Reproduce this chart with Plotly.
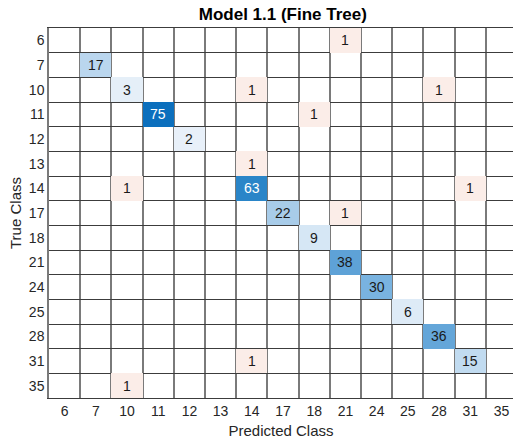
import plotly.graph_objects as go

# confusion matrix for Model 1.1 (Fine Tree)
classes = [6, 7, 10, 11, 12, 13, 14, 17, 18, 21, 24, 25, 28, 31, 35]
counts = [
    # 6  7 10  11 12 13 14  17 18 21  24 25 28  31 35
    [0, 0, 0, 0, 0, 0, 0, 0, 0, 1, 0, 0, 0, 0, 0],      # 6
    [0, 17, 0, 0, 0, 0, 0, 0, 0, 0, 0, 0, 0, 0, 0],     # 7
    [0, 0, 3, 0, 0, 0, 1, 0, 0, 0, 0, 0, 1, 0, 0],      # 10
    [0, 0, 0, 75, 0, 0, 0, 0, 1, 0, 0, 0, 0, 0, 0],     # 11
    [0, 0, 0, 0, 2, 0, 0, 0, 0, 0, 0, 0, 0, 0, 0],      # 12
    [0, 0, 0, 0, 0, 0, 1, 0, 0, 0, 0, 0, 0, 0, 0],      # 13
    [0, 0, 1, 0, 0, 0, 63, 0, 0, 0, 0, 0, 0, 1, 0],     # 14
    [0, 0, 0, 0, 0, 0, 0, 22, 0, 1, 0, 0, 0, 0, 0],     # 17
    [0, 0, 0, 0, 0, 0, 0, 0, 9, 0, 0, 0, 0, 0, 0],      # 18
    [0, 0, 0, 0, 0, 0, 0, 0, 0, 38, 0, 0, 0, 0, 0],     # 21
    [0, 0, 0, 0, 0, 0, 0, 0, 0, 0, 30, 0, 0, 0, 0],     # 24
    [0, 0, 0, 0, 0, 0, 0, 0, 0, 0, 0, 6, 0, 0, 0],      # 25
    [0, 0, 0, 0, 0, 0, 0, 0, 0, 0, 0, 0, 36, 0, 0],     # 28
    [0, 0, 0, 0, 0, 0, 1, 0, 0, 0, 0, 0, 0, 15, 0],     # 31
    [0, 0, 1, 0, 0, 0, 0, 0, 0, 0, 0, 0, 0, 0, 0],      # 35
]

n = len(classes)
idx = list(range(n))
zmax = max(max(r) for r in counts)

diag = [[counts[i][j] if (i == j and counts[i][j] > 0) else None for j in idx] for i in idx]
offd = [[counts[i][j] if (i != j and counts[i][j] > 0) else None for j in idx] for i in idx]

fig = go.Figure()
fig.add_trace(go.Heatmap(
    x=idx, y=idx, z=diag, zmin=0, zmax=zmax,
    colorscale=[[0, '#ffffff'], [0.02, '#e9f1f9'], [0.12, '#d6e7f5'],
                [0.3, '#a6cbe9'], [0.4, '#79b3e0'], [0.5, '#5fa3d7'],
                [0.84, '#2a85c8'], [1, '#0b6fbd']],
    showscale=False, hoverinfo='skip'
))
fig.add_trace(go.Heatmap(
    x=idx, y=idx, z=offd, zmin=0, zmax=zmax,
    colorscale=[[0, '#ffffff'], [0.0134, '#fbede8'], [1, '#d95319']],
    showscale=False, hoverinfo='skip'
))

for i in idx:
    for j in idx:
        v = counts[i][j]
        if v > 0:
            fig.add_annotation(
                x=j, y=i, text=str(v), showarrow=False,
                font=dict(size=14, color='white' if v > 50 else '#1a1a1a')
            )

fig.update_layout(
    width=513, height=441,
    margin=dict(l=49, r=0, t=28, b=43, autoexpand=False),
    paper_bgcolor='white', plot_bgcolor='white',
    font=dict(family='Liberation Sans, Arial, sans-serif', color='#262626', size=14),
    title=dict(text='<b>Model 1.1 (Fine Tree)</b>', x=0.504, xref='paper',
               xanchor='center', y=0.968, yanchor='middle',
               font=dict(size=17, color='#000000')),
    showlegend=False
)
fig.update_xaxes(
    range=[-0.5, 14.37], tickmode='array', tickvals=idx, automargin=False,
    ticktext=[str(c) for c in classes], showgrid=False, zeroline=False,
    ticks='', ticklen=0, tickfont=dict(size=14, color='#262626'),
    ticklabeloverflow='allow',
    title=dict(text='Predicted Class', font=dict(size=15, color='#262626'), standoff=7),
    showline=True, linecolor='#3c3c3c', linewidth=1, mirror=True,
    minor=dict(tick0=0.5, dtick=1, showgrid=True, gridcolor='#7a7a7a', gridwidth=1.5)
)
fig.update_yaxes(
    range=[14.5, -0.5], tickmode='array', tickvals=idx, automargin=False,
    ticktext=[str(c) for c in classes], showgrid=False, zeroline=False,
    ticks='', ticklen=0, tickfont=dict(size=14, color='#262626'),
    title=dict(text='True Class', font=dict(size=15, color='#262626'), standoff=4),
    showline=True, linecolor='#7a7a7a', linewidth=1.5,
    minor=dict(tick0=0.5, dtick=1, showgrid=True, gridcolor='#3c3c3c', gridwidth=1)
)

# drop the default page margin so the figure fills the window exactly
fig.write_html("out.html", config={'displayModeBar': False},
               post_script="document.body.style.margin='0';document.body.style.overflow='hidden';")
